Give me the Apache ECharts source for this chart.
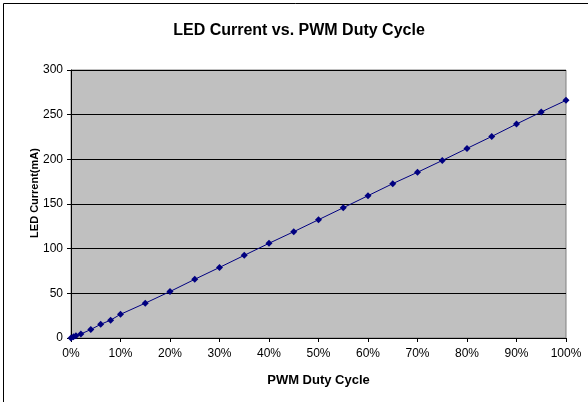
<!DOCTYPE html>
<html>
<head>
<meta charset="utf-8">
<script src="https://cdn.jsdelivr.net/npm/echarts@6/dist/echarts.min.js"></script>
<style>
  html, body { margin: 0; padding: 0; background: #fff; }
  #main { width: 588px; height: 402px; }
</style>
</head>
<body>
<div id="main"></div>
<script>
var myChart = echarts.init(document.getElementById('main'));

// duty cycle (%) and measured current (mA)
var dutyCycle = [0, 0.5, 1, 2, 4, 6, 8, 10, 15, 20, 25, 30, 35, 40, 45, 50, 55, 60, 65, 70, 75, 80, 85, 90, 95, 100];
var currentMA = [0, 1.3, 2.6, 4.5, 9.5, 15.3, 20, 26.5, 39, 52, 65.7, 79, 92.5, 106, 119, 132.4, 145.8, 159.3, 172.8, 185.5, 198.7, 212.2, 225.6, 239.5, 253, 266];

var points = dutyCycle.map(function (d, i) { return [d, currentMA[i]]; });

var font = 'Arial, "Liberation Sans", sans-serif';

var option = {
  animation: false,
  backgroundColor: '#fff',
  // 标题
  title: {
    text: 'LED Current vs. PWM Duty Cycle',
    left: 294,
    top: 18,
    textAlign: 'center',
    textStyle: { fontFamily: font, fontSize: 16, fontWeight: 'bold', color: '#000' }
  },
  graphic: [
    // 外框 (only top & left visible)
    { type: 'line', shape: { x1: 3.5, y1: 3.5, x2: 588, y2: 3.5 }, style: { stroke: '#000', lineWidth: 1 } },
    { type: 'line', shape: { x1: 3.5, y1: 3.5, x2: 3.5, y2: 402 }, style: { stroke: '#000', lineWidth: 1 } },
    // y轴标题
    {
      type: 'text',
      x: 35,
      y: 193,
      rotation: Math.PI / 2,
      style: {
        text: 'LED Current(mA)',
        font: 'bold 11px ' + font,
        fill: '#000',
        align: 'center',
        verticalAlign: 'middle'
      }
    }
  ],
  grid: {
    left: 71,
    right: 22,
    top: 70,
    bottom: 64,
    show: true,
    backgroundColor: '#C0C0C0',
    borderColor: '#808080',
    borderWidth: 1
  },
  xAxis: {
    type: 'value',
    min: 0,
    max: 100,
    interval: 10,
    name: 'PWM Duty Cycle',
    nameLocation: 'middle',
    nameGap: 36,
    nameTextStyle: { fontFamily: font, fontSize: 13, fontWeight: 'bold', color: '#000' },
    axisLine: { show: true, lineStyle: { color: '#000' } },
    axisTick: { show: true, inside: false, length: 4, lineStyle: { color: '#000' } },
    axisLabel: { formatter: '{value}%', fontFamily: font, fontSize: 12, color: '#000', margin: 10 },
    splitLine: { show: false }
  },
  yAxis: {
    type: 'value',
    min: 0,
    max: 300,
    interval: 50,
    axisLine: { show: true, lineStyle: { color: '#000' } },
    axisTick: { show: true, inside: false, length: 4, lineStyle: { color: '#000' } },
    axisLabel: { fontFamily: font, fontSize: 12, color: '#000', margin: 8 },
    splitLine: { show: true, lineStyle: { color: '#000', width: 1 } }
  },
  series: [{
    name: 'LED Current',
    type: 'line',
    data: points,
    symbol: 'diamond',
    symbolSize: 7,
    itemStyle: { color: '#000080' },
    lineStyle: { color: '#000080', width: 1 }
  }]
};

myChart.setOption(option);
</script>
</body>
</html>
